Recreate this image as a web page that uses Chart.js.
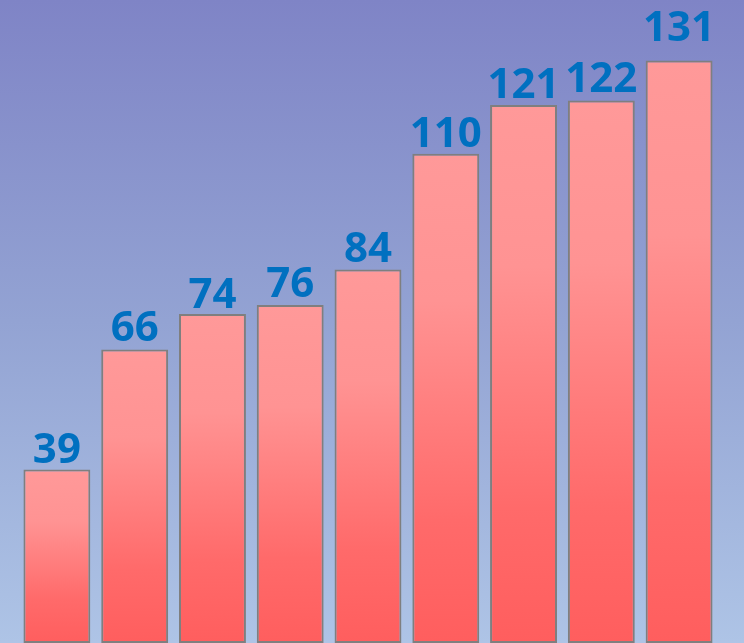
<!DOCTYPE html>
<html>
<head>
<meta charset="utf-8">
<script src="https://cdn.jsdelivr.net/npm/chart.js@4"></script>
<style>
  html, body { margin: 0; padding: 0; }
  body { width: 744px; height: 643px; overflow: hidden;
         background: linear-gradient(to bottom, #7F84C6 0%, #93A3D3 50%, #AEC4E6 100%); }
  canvas { display: block; }
</style>
</head>
<body>
<canvas id="c" width="744" height="643"></canvas>
<script>
const categories = ["1", "2", "3", "4", "5", "6", "7", "8", "9"];
const values = [39, 66, 74, 76, 84, 110, 121, 122, 131];
const labelOffsets = [7, 9, 6, 8, 7, 7, 7, 8, 19];

const valueLabels = {
  id: 'valueLabels',
  afterDatasetsDraw(chart) {
    const ctx = chart.ctx;
    const meta = chart.getDatasetMeta(0);
    ctx.save();
    ctx.font = 'bold 42px "Open Sans"';
    ctx.fillStyle = '#0070C0';
    ctx.textAlign = 'center';
    ctx.textBaseline = 'alphabetic';
    meta.data.forEach((bar, i) => {
      ctx.fillText(String(values[i]), bar.x, bar.y - labelOffsets[i]);
    });
    ctx.restore();
  }
};

function barGradient(context) {
  const chart = context.chart;
  const area = chart.chartArea;
  if (!area || context.dataIndex === undefined) return '#FF8080';
  const y = chart.scales.y;
  const top = y.getPixelForValue(values[context.dataIndex]);
  const base = y.getPixelForValue(0);
  const g = chart.ctx.createLinearGradient(0, top, 0, base);
  g.addColorStop(0, '#FF9999');
  g.addColorStop(0.3, '#FF9393');
  g.addColorStop(0.75, '#FF6A6A');
  g.addColorStop(1, '#FF5E5E');
  return g;
}

new Chart(document.getElementById('c'), {
  type: 'bar',
  data: {
    labels: categories,
    datasets: [{
      data: values,
      backgroundColor: barGradient,
      borderColor: '#7F7F7F',
      borderWidth: 2,
      borderSkipped: false,
      barPercentage: 0.86,
      categoryPercentage: 1
    }]
  },
  options: {
    responsive: false,
    animation: false,
    layout: { padding: { left: 18, right: 26, top: 0, bottom: 0 } },
    plugins: { legend: { display: false }, tooltip: { enabled: false } },
    scales: {
      x: { display: false },
      y: { display: false, min: 0, max: 144.6 }
    }
  },
  plugins: [valueLabels]
});
</script>
</body>
</html>
